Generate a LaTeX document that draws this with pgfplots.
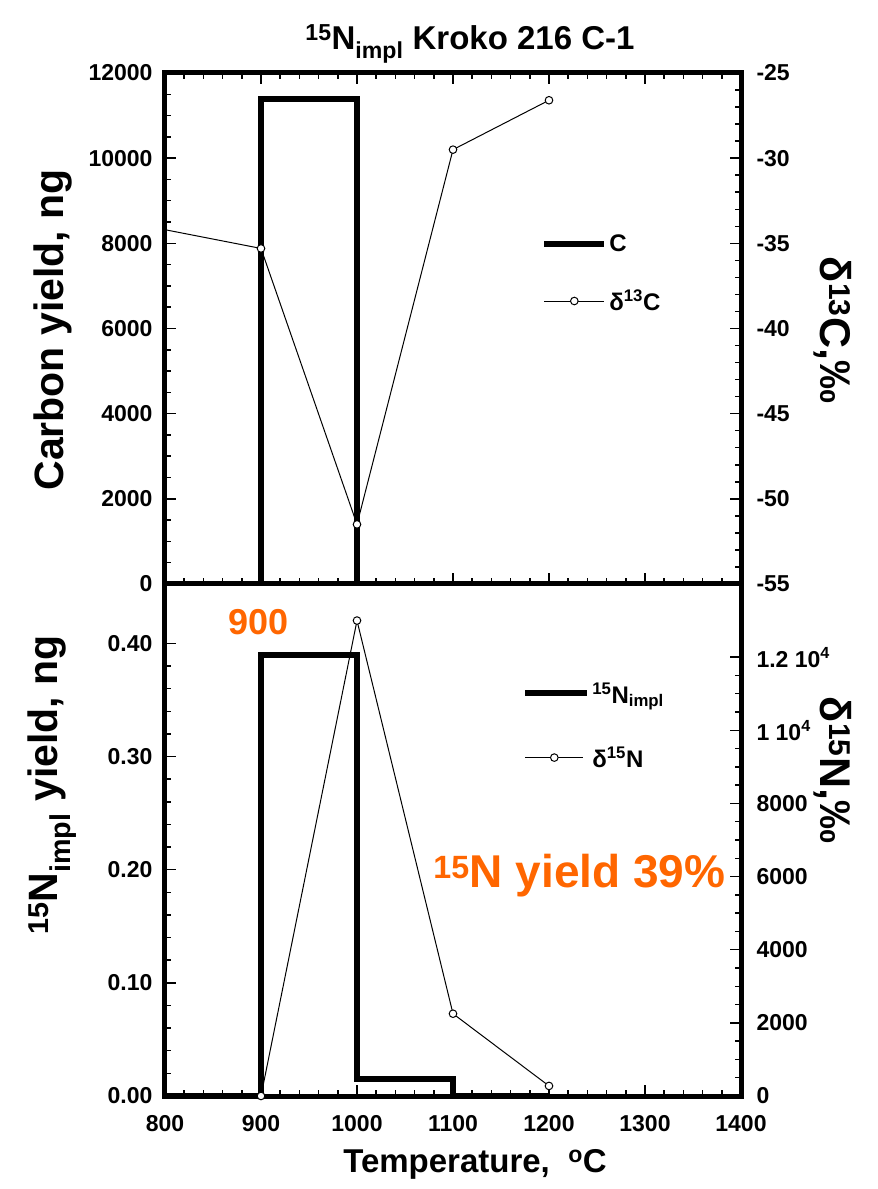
\documentclass[border=0pt]{standalone}
\usepackage{fontspec}
\setmainfont{Liberation Sans}
\usepackage{pgfplots}
\pgfplotsset{compat=1.18}
\definecolor{orng}{RGB}{255,102,0}

\newcommand{\fs}[1]{\fontsize{#1}{#1}\selectfont\bfseries}

\pgfplotsset{
  panel/.style={
    scale only axis, width=576pt, xmin=800, xmax=1400,
    scaled ticks=false,
    axis line style={line width=5pt, line join=miter},
    major tick length=11pt, minor tick length=6pt,
    every tick/.style={line width=1.5pt, black},
    tick align=inside,
    tick label style={font=\fs{23}},
    xticklabel style={yshift=-16pt},
    clip mode=individual,
  },
  leftax/.style={yticklabel style={xshift=-9pt}},
  rightax/.style={yticklabel style={xshift=12pt}},
  step/.style={const plot, line width=6pt, line join=miter, mark=none},
  dline/.style={line width=1pt, mark=*, mark size=3.8pt,
    mark options={fill=white, line width=1pt}},
}

\begin{document}
\begin{tikzpicture}
\useasboundingbox (-165pt,-93pt) rectangle (713pt,1096pt);

% ---- top panel: carbon
\begin{axis}[panel, leftax, height=511pt, at={(0pt,512pt)}, anchor=south west,
  ymin=0, ymax=12000, ytick={0,2000,...,12000},
  yticklabels={0,2000,4000,6000,8000,10000,12000},
  minor y tick num=3, xtick={800,900,...,1400}, minor x tick num=4,
  xticklabel=\empty, ytick pos=left, xtick pos=both]
  \addplot[step] coordinates {(800,0) (900,11400) (1000,0) (1200,0)};
\end{axis}
\begin{axis}[panel, rightax, height=511pt, at={(0pt,512pt)}, anchor=south west,
  ymin=-55, ymax=-25, ytick={-55,-50,...,-25},
  yticklabels={-55,-50,-45,-40,-35,-30,-25},
  minor y tick num=4, axis y line*=right, axis x line=none,
  legend style={at={(rel axis cs:0.653,0.688)}, anchor=north west,
    draw=none, fill=none, font=\fs{24}, row sep=33pt,
    inner sep=0pt, cells={anchor=west}},
  legend cell align=left]
  \addplot[dline, mark indices={2,3,4,5}, forget plot]
    coordinates {(800,-34.2) (900,-35.3) (1000,-51.5) (1100,-29.5) (1200,-26.6)};
  \addlegendimage{legend image code/.code={\draw[line width=6pt] (0pt,0pt)--(60pt,0pt);}}
  \addlegendentry{C}
  \addlegendimage{legend image code/.code={\draw[line width=1pt] (0pt,0pt)--(60pt,0pt);
    \draw[line width=1pt, fill=white] (30pt,0pt) circle (3.8pt);}}
  \addlegendentry{δ\textsuperscript{13}C}
\end{axis}

% ---- bottom panel: nitrogen
\begin{axis}[panel, leftax, height=512pt, at={(0pt,0pt)}, anchor=south west,
  ymin=0, ymax=0.4525, ytick={0,0.1,0.2,0.3,0.4},
  yticklabels={0.00,0.10,0.20,0.30,0.40},
  minor y tick num=4, xtick={800,900,...,1400}, minor x tick num=4,
  xticklabels={800,900,1000,1100,1200,1300,1400},
  ytick pos=left, xtick pos=bottom]
  \addplot[step] coordinates {(800,0) (900,0.39) (1000,0.015) (1100,0) (1200,0)};
  \node[anchor=base west, text=orng, font=\fs{36}] at (axis cs:862,0.408) {900};
  \node[anchor=base west, text=orng, font=\fs{46}] at (axis cs:1076,0.1846)
    {\textsuperscript{15}N yield 39\%};
\end{axis}
\begin{axis}[panel, rightax, height=512pt, at={(0pt,0pt)}, anchor=south west,
  ymin=0, ymax=14000, ytick={0,2000,...,12000},
  yticklabels={0,2000,4000,6000,8000,{1 10\textsuperscript{4}},{1.2 10\textsuperscript{4}}},
  minor y tick num=3, axis y line*=right, axis x line=none,
  legend style={at={(rel axis cs:0.62,0.812)}, anchor=north west,
    draw=none, fill=none, font=\fs{24}, row sep=38pt,
    inner sep=0pt, cells={anchor=west}},
  legend cell align=left]
  \addplot[dline, forget plot]
    coordinates {(900,0) (1000,13000) (1100,2250) (1200,275)};
  \addlegendimage{legend image code/.code={\draw[line width=6pt] (0pt,0pt)--(62pt,0pt);}}
  \addlegendentry{\textsuperscript{15}N\textsubscript{impl}}
  \addlegendimage{legend image code/.code={\draw[line width=1pt] (0pt,0pt)--(58pt,0pt);
    \draw[line width=1pt, fill=white] (29pt,0pt) circle (3.8pt);}}
  \addlegendentry{δ\textsuperscript{15}N}
\end{axis}

% ---- titles and axis labels
\node[anchor=base, font=\fs{33}] at (305pt,1046pt)
  {\textsuperscript{15}N\textsubscript{impl} Kroko 216 C-1};
\node[anchor=base, font=\fs{33}] at (310pt,-76pt)
  {Temperature,\ \ \textsuperscript{o}C};
\node[rotate=90, font=\fs{41}] at (-112pt,766pt) {Carbon yield, ng};
\node[rotate=90, anchor=base, font=\fs{41}] at (-107pt,311pt)
  {\textsuperscript{15}N\textsubscript{impl} yield, ng};
\node[rotate=-90, font=\fs{43}] at (668pt,766pt) {δ\textsuperscript{13}C,‰};
\node[rotate=-90, font=\fs{43}] at (668pt,326pt) {δ\textsuperscript{15}N,‰};
\end{tikzpicture}
\end{document}
